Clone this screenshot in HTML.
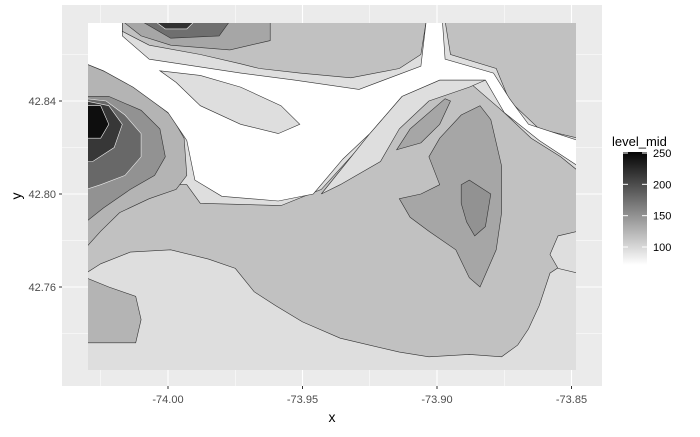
<!DOCTYPE html>
<html><head><meta charset="utf-8"><style>
body{margin:0;background:#fff;font-family:"Liberation Sans",sans-serif}
svg text{font-family:"Liberation Sans",sans-serif}
</style></head><body>
<svg id="chart" width="700" height="432" xmlns="http://www.w3.org/2000/svg">
<rect x="62" y="5" width="540" height="381" fill="#ebebeb"/>
<g id="grid"></g>
<clipPath id="clipData"><rect x="88" y="23" width="488" height="347"/></clipPath>
<g id="fills" clip-path="url(#clipData)"></g>
<g id="axes"></g>
<text x="332" y="422" font-size="14" text-anchor="middle" fill="#000">x</text>
<text x="21" y="196" font-size="14" text-anchor="middle" fill="#000" transform="rotate(-90 21 196)">y</text>
<g>
<text x="612" y="146" font-size="13" fill="#000">level_mid</text>
<defs><linearGradient id="cbar" x1="0" y1="0" x2="0" y2="1">
<stop offset="0" stop-color="#050505"/><stop offset="1" stop-color="#ffffff"/></linearGradient></defs>
<rect x="623" y="152" width="24" height="113" fill="url(#cbar)"/>
<g id="legendTicks"></g>
</g>
</svg>
<script>
const xTicks=[-74.00,-73.95,-73.90,-73.85];
const xTickLabels=["-74.00","-73.95","-73.90","-73.85"];
const yTicks=[42.76,42.80,42.84];
const yTickLabels=["42.76","42.80","42.84"];
const legendValues=[250,200,150,100];
const legendLabels=["250","200","150","100"];
const dataExtent=[-74.030,-73.848,42.724,42.874];

// contour bands: level + polygon [lon,lat,...]
const bandLevels=[95,116,116,116,135,175,220,135,135,150,125,150,180,215,245,125,95,0,95,95];
const bandPolys=[
[-74.030,42.874,-73.848,42.874,-73.848,42.724,-74.030,42.724],
[-74.030,42.792,-74.018,42.798,-74.007,42.804,-73.993,42.804,-73.988,42.796,-73.958,42.795,-73.943,42.802,-73.932,42.816,-73.921,42.830,-73.906,42.844,-73.888,42.848,-73.876,42.836,-73.865,42.824,-73.854,42.816,-73.848,42.810,-73.848,42.774,-73.858,42.766,-73.862,42.752,-73.866,42.742,-73.870,42.735,-73.876,42.730,-73.888,42.731,-73.903,42.730,-73.914,42.732,-73.936,42.738,-73.950,42.745,-73.960,42.752,-73.968,42.758,-73.975,42.768,-73.985,42.772,-73.999,42.776,-74.014,42.775,-74.025,42.770,-74.030,42.766],
[-74.017,42.874,-73.904,42.874,-73.906,42.860,-73.914,42.854,-73.932,42.850,-73.951,42.852,-73.966,42.854,-73.973,42.856,-73.988,42.860,-74.007,42.864,-74.017,42.870],
[-73.897,42.874,-73.848,42.874,-73.848,42.824,-73.862,42.828,-73.873,42.840,-73.878,42.854,-73.895,42.860],
[-74.017,42.874,-73.962,42.874,-73.962,42.866,-73.977,42.862,-73.999,42.864,-74.010,42.868],
[-74.010,42.874,-73.977,42.874,-73.981,42.868,-73.999,42.867],
[-74.005,42.874,-73.990,42.874,-73.993,42.871,-74.001,42.871],
[-73.899,42.824,-73.891,42.834,-73.884,42.838,-73.880,42.832,-73.876,42.812,-73.876,42.792,-73.878,42.776,-73.884,42.760,-73.888,42.764,-73.893,42.776,-73.903,42.784,-73.910,42.790,-73.914,42.798,-73.906,42.800,-73.899,42.804,-73.903,42.816],
[-73.915,42.819,-73.910,42.828,-73.897,42.841,-73.895,42.840,-73.899,42.830,-73.906,42.822],
[-73.891,42.804,-73.888,42.806,-73.880,42.800,-73.882,42.786,-73.886,42.782,-73.889,42.788,-73.891,42.796],
[-74.030,42.856,-74.022,42.852,-74.010,42.844,-73.999,42.834,-73.994,42.824,-73.993,42.808,-73.997,42.802,-74.007,42.798,-74.018,42.792,-74.025,42.784,-74.030,42.777],
[-74.030,42.842,-74.022,42.842,-74.010,42.836,-74.003,42.828,-74.001,42.816,-74.005,42.808,-74.014,42.802,-74.024,42.794,-74.030,42.788],
[-74.030,42.841,-74.023,42.840,-74.016,42.834,-74.010,42.826,-74.010,42.816,-74.016,42.808,-74.025,42.804,-74.030,42.802],
[-74.030,42.840,-74.022,42.838,-74.017,42.830,-74.020,42.820,-74.028,42.814,-74.030,42.814],
[-74.030,42.838,-74.025,42.838,-74.022,42.830,-74.025,42.824,-74.030,42.824],
[-74.030,42.764,-74.022,42.760,-74.012,42.756,-74.010,42.746,-74.012,42.736,-74.030,42.736],
[-73.925,42.826,-73.913,42.842,-73.899,42.849,-73.882,42.849,-73.888,42.846,-73.903,42.840,-73.914,42.828,-73.921,42.814,-73.936,42.804,-73.943,42.800],
[-74.030,42.874,-74.017,42.874,-74.017,42.868,-74.007,42.858,-73.973,42.852,-73.953,42.849,-73.929,42.845,-73.906,42.855,-73.904,42.874,-73.898,42.874,-73.897,42.858,-73.879,42.852,-73.873,42.841,-73.866,42.830,-73.848,42.823,-73.848,42.812,-73.862,42.823,-73.875,42.835,-73.882,42.849,-73.899,42.849,-73.913,42.842,-73.925,42.826,-73.935,42.815,-73.946,42.800,-73.959,42.797,-73.980,42.799,-73.990,42.806,-73.993,42.823,-74.000,42.835,-74.013,42.846,-74.024,42.853,-74.030,42.856],
[-74.003,42.853,-73.988,42.851,-73.973,42.846,-73.958,42.838,-73.951,42.830,-73.959,42.826,-73.973,42.830,-73.988,42.838,-73.997,42.848],
[-73.848,42.784,-73.855,42.782,-73.858,42.774,-73.855,42.768,-73.848,42.766]
];

const X0=88,X1=576,Y0=23,Y1=370;
function sx(lon){return 168+(lon+74)/0.05*134.5;}
function sy(lat){return 101+(42.84-lat)/0.04*93;}
function gray(v){if(v<=0)return '#ffffff';let g=Math.round(255*(1-(v-71)/(255-71)));g=Math.max(0,Math.min(255,g));return 'rgb('+g+','+g+','+g+')';}
const NS='http://www.w3.org/2000/svg';
function mk(t,a){const e=document.createElementNS(NS,t);for(const k in a)e.setAttribute(k,a[k]);return e;}

const grid=document.getElementById('grid');
const xMinor=[-74.025,-73.975,-73.925,-73.875];
const yMinor=[42.74,42.78,42.82,42.86];
xMinor.forEach(v=>{const l=mk('line',{x1:sx(v),x2:sx(v),y1:5,y2:386,stroke:'#fff','stroke-width':0.5});

grid.appendChild(l);});
yMinor.forEach(v=>{const l=mk('line',{x1:62,x2:602,y1:sy(v),y2:sy(v),stroke:'#fff','stroke-width':0.5});

grid.appendChild(l);});
xTicks.forEach(v=>{const l=mk('line',{x1:sx(v),x2:sx(v),y1:5,y2:386,stroke:'#fff','stroke-width':1.1});

grid.appendChild(l);});
yTicks.forEach(v=>{const l=mk('line',{x1:62,x2:602,y1:sy(v),y2:sy(v),stroke:'#fff','stroke-width':1.1});

grid.appendChild(l);});

const fills=document.getElementById('fills');
bandPolys.forEach((p,i)=>{
  const pts=[];
  for(let j=0;j<p.length;j+=2){
    let lon=p[j],lat=p[j+1];
    let x=sx(lon),y=sy(lat);
    if(lon<=dataExtent[0])x=X0-2; if(lon>=dataExtent[1])x=X1+2;
    if(lat>=dataExtent[3])y=Y0-2; if(lat<=dataExtent[2])y=Y1+2;
    pts.push(x.toFixed(1)+','+y.toFixed(1));
  }
  const lv=bandLevels[i];
  const pg=mk('polygon',{points:pts.join(' '),fill:gray(lv),stroke:i===0?'none':(lv>=180?'#eeeeee':'#333333'),'stroke-width':0.6});
  
  
  fills.appendChild(pg);
});

const axes=document.getElementById('axes');
xTicks.forEach((v,i)=>{
  const t=mk('line',{x1:sx(v),x2:sx(v),y1:386,y2:389,stroke:'#333','stroke-width':1});
  
  axes.appendChild(t);
  const tx=mk('text',{x:sx(v),y:403,'font-size':11,'text-anchor':'middle',fill:'#4d4d4d'});
  tx.textContent=xTickLabels[i];
  
  axes.appendChild(tx);
});
yTicks.forEach((v,i)=>{
  const t=mk('line',{x1:59,x2:62,y1:sy(v),y2:sy(v),stroke:'#333','stroke-width':1});
  
  axes.appendChild(t);
  const tx=mk('text',{x:56,y:sy(v)+4,'font-size':11,'text-anchor':'end',fill:'#4d4d4d'});
  tx.textContent=yTickLabels[i];
  
  axes.appendChild(tx);
});

const lt=document.getElementById('legendTicks');
function ly(v){return 153+(250-v)*(247-153)/150;}
legendValues.forEach((v,i)=>{
  const a=mk('line',{x1:623,x2:628,y1:ly(v),y2:ly(v),stroke:'#fff','stroke-width':1});
  
  lt.appendChild(a);
  const b=mk('line',{x1:642,x2:647,y1:ly(v),y2:ly(v),stroke:'#fff','stroke-width':1});
  
  lt.appendChild(b);
  const tx=mk('text',{x:653,y:ly(v)+4,'font-size':11,'fill':'#000'});
  tx.textContent=legendLabels[i];
  
  lt.appendChild(tx);
});
</script>
</body></html>
